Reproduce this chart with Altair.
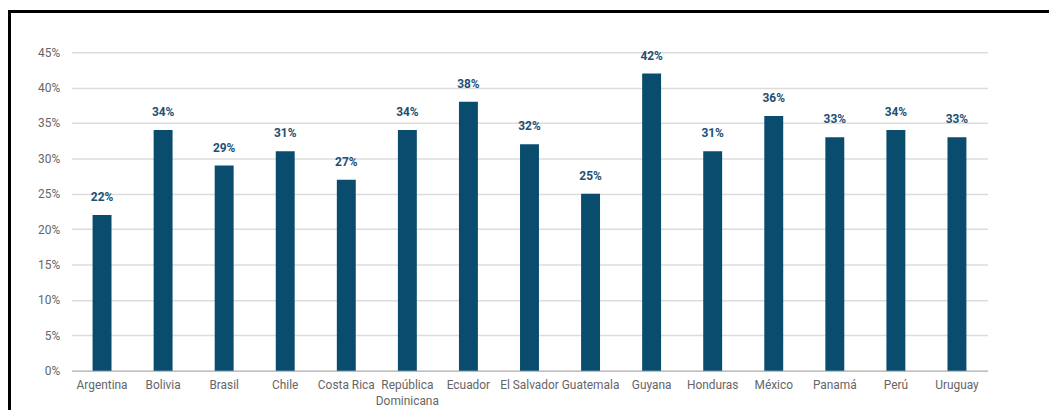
import altair as alt
import pandas as pd

countries = ["Argentina", "Bolivia", "Brasil", "Chile", "Costa Rica", "República Dominicana",
             "Ecuador", "El Salvador", "Guatemala", "Guyana", "Honduras", "México",
             "Panamá", "Perú", "Uruguay"]
values = [0.22, 0.34, 0.29, 0.31, 0.27, 0.34, 0.38, 0.32, 0.25, 0.42, 0.31, 0.36, 0.33, 0.34, 0.33]
y_ticks = [0, 0.05, 0.10, 0.15, 0.20, 0.25, 0.30, 0.35, 0.40, 0.45]

df = pd.DataFrame({"country": countries, "value": values})

FONT = "Roboto, sans-serif"
BAR = "#0a4c6e"

xscale = alt.Scale(paddingInner=0.69, paddingOuter=0.345)
yscale = alt.Scale(domain=[0, 0.45], nice=False)

x = alt.X("country:N", sort=countries, title=None, scale=xscale,
          axis=alt.Axis(labelAngle=0, labelFontSize=12, labelColor="#666666", labelFont=FONT,
                        labelPadding=9, ticks=False, domainColor="#bfbfbf", domainWidth=1.5,
                        labelLineHeight=16,
                        labelExpr="datum.label == 'República Dominicana' ? ['República', 'Dominicana'] : datum.label"))
y = alt.Y("value:Q", title=None, scale=yscale,
          axis=alt.Axis(values=y_ticks, format=".0%", labelFontSize=12, labelColor="#666666",
                        labelFont=FONT, labelPadding=12, ticks=False, domain=False,
                        gridColor="#dcdcdc", gridWidth=1.5, labelOverlap=False))

bars = alt.Chart(df).mark_bar(color=BAR).encode(x=x, y=y)
labels = alt.Chart(df).mark_text(baseline="bottom", dy=-11, fontSize=12, fontWeight="bold",
                                 color="#1d4f73", font=FONT).encode(
    x=x, y=y, text=alt.Text("value:Q", format=".0%"))

frame_left = alt.Chart(df).mark_rule(color="black", strokeWidth=3, clip=False).encode(
    x=alt.value(-63), y=alt.value(-42), y2=alt.value(400))
frame_top = alt.Chart(df).mark_rule(color="black", strokeWidth=3, clip=False).encode(
    x=alt.value(-64.5), x2=alt.value(1000), y=alt.value(-41))

chart = alt.layer(bars, labels, frame_left, frame_top).properties(
    width=923, height=321,
    background="white",
    autosize=alt.AutoSizeParams(type="none"),
    padding={"left": 64, "top": 43, "right": 62, "bottom": 38},
).configure_view(stroke=None)

chart.save("out.html", embed_options={"renderer": "svg", "actions": False})
